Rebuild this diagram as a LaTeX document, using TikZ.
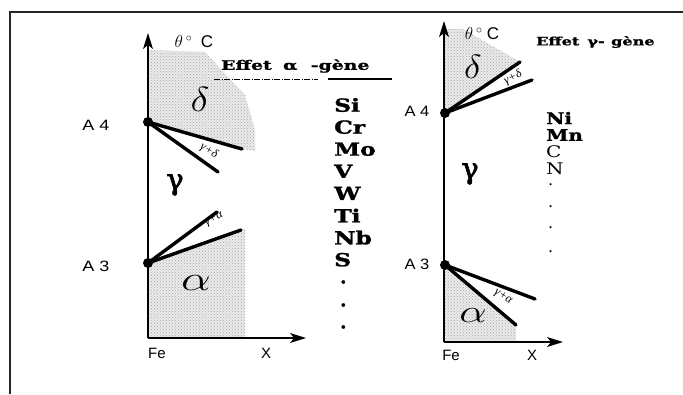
\documentclass[tikz,border=0pt]{standalone}
\usepackage{fontspec}
\setmainfont{Liberation Serif}
\setsansfont{Liberation Sans}
\newfontfamily\dserif[BoldFeatures={FakeBold=1.2}]{DejaVu Serif}
\newfontfamily\gkfont[FakeBold=2.5]{DejaVu Serif}
\usetikzlibrary{patterns}
\begin{document}
\begin{tikzpicture}[x=1pt,y=-1pt,
  frameline/.style={line width=1.6pt,black!85},
  axisline/.style={line width=2.4pt},
  tipfill/.style={fill=black},
  bound/.style={line width=3.4pt,line cap=round},
  pnt/.style={circle,fill=black,inner sep=0pt,minimum size=10pt},
  phase/.style={preaction={fill=gray!16},pattern=crosshatch dots,pattern color=gray!70},
  elem/.style={anchor=west,inner sep=0pt,font=\dserif\fontsize{18}{18}\selectfont\bfseries},
  elemr/.style={anchor=west,inner sep=0pt,font=\dserif\fontsize{16}{16}\selectfont},
  ptlab/.style={inner sep=0pt,font=\sffamily\fontsize{15}{15}\selectfont},
  axlab/.style={inner sep=0pt,font=\sffamily\fontsize{15}{15}\selectfont},
  thlab/.style={inner sep=0pt,font=\fontsize{17}{17}\selectfont},
  mix/.style={inner sep=0pt,font=\fontsize{12}{12}\selectfont\itshape},
  big/.style={inner sep=0pt,font=\fontsize{30}{30}\selectfont},
  gam/.style={inner sep=0pt,font=\gkfont\fontsize{29}{29}\selectfont},
  title/.style={anchor=west,inner sep=0pt}
]
\useasboundingbox (0,0) rectangle (683,394);
\fill[white] (0,0) rectangle (683,394);
% frame
\draw[frameline] (10,394) -- (10,12) -- (683,12);

% ---------------- left diagram ----------------
\coordinate (LO) at (148,338);
\coordinate (LY) at (148,33);
\coordinate (LYb) at (148,44);
\coordinate (LX) at (306,338);
\coordinate (LXb) at (295,338);
\coordinate (LA4) at (148,122);
\coordinate (LA3) at (148,263);
\coordinate (LdU) at (242,149);
\coordinate (LdL) at (218,172);
\coordinate (LaU) at (217,212);
\coordinate (LaL) at (241,230);
% shaded regions
\path[phase] (149,50) -- (205,52) -- (245,95) -- (255,130) -- (255,151) -- (LdU) -- (LA4) -- cycle;
\path[phase] (LA3) -- (LaL) -- (245,229) -- (245,338) -- (149,338) -- cycle;
% axes with arrowheads
\draw[axisline] (LO) -- (LYb);
\draw[axisline] (LO) -- (LXb);
\fill[tipfill] (LY) -- ++(-5,16) -- ++(5,-4) -- ++(5,4) -- cycle;
\fill[tipfill] (LX) -- ++(-16,-5) -- ++(4,5) -- ++(-4,5) -- cycle;
% boundaries
\draw[bound] (LA4) -- (LdU);
\draw[bound] (LA4) -- (LdL);
\draw[bound] (LA3) -- (LaU);
\draw[bound] (LA3) -- (LaL);
\node[pnt] (pLA4) at (LA4) {};
\node[pnt] (pLA3) at (LA3) {};
% labels
\node[ptlab] (lA4) at (96,125) {\scalebox{1.2}[1]{A 4}};
\node[ptlab] (lA3) at (96,266) {\scalebox{1.2}[1]{A 3}};
\node[thlab] (lth) at (194,42) {$\theta\,^{\circ}$\ \ \textsf{C}};
\node[axlab] (lFe) at (157,353) {Fe};
\node[axlab] (lX) at (266,353) {X};
\node[big] (ldelta) at (200,99) {\scalebox{1.6}[1.4]{$\delta$}};
\node[gam] (lgamma) at (175,185) {γ};
\node[big] (lalpha) at (196,283) {\scalebox{1.9}[1.4]{$\alpha$}};
\node[mix,rotate=-30] (lgd) at (209,151) {γ+δ};
\node[mix,rotate=28] (lga) at (214,219) {γ+α};
% title
\node[title,font=\dserif\fontsize{13}{13}\selectfont\bfseries] (ltitle) at (221,66) {\scalebox{1.45}[1]{Effet\hspace{0.6em}α\hspace{0.7em}-gène}};
\coordinate (u1) at (214,79);
\coordinate (u2) at (318,79);
\coordinate (u3) at (328,79);
\coordinate (u4) at (392,79);
\draw[line width=0.9pt,dash pattern=on 6pt off 1.5pt on 1pt off 1.5pt] (u1) -- (u2);
\draw[line width=1.5pt] (u3) -- (u4);
% elements
\foreach \t [count=\i from 0] in {Si,Cr,Mo,V,W,Ti,Nb,S}
  \node[elem] (le\i) at (334,105+22.1*\i) {\scalebox{1.3}[1]{\t}};
\foreach \yy [count=\i] in {287,310,332}
  \node[elem] (ld\i) at (340,\yy-5) {.};

% ---------------- right diagram ----------------
\coordinate (RO) at (444,342);
\coordinate (RY) at (444,21);
\coordinate (RYb) at (444,32);
\coordinate (RX) at (563,342);
\coordinate (RXb) at (552,342);
\coordinate (RA4) at (445,113);
\coordinate (RA3) at (445,265);
\coordinate (RdU) at (520,62);
\coordinate (RdL) at (532,80);
\coordinate (RaU) at (535,299);
\coordinate (RaL) at (516,325);
\path[phase] (445,29) -- (463,29) -- (RdU) -- (RA4) -- cycle;
\path[phase] (RA3) -- (RaL) -- (516,342) -- (445,342) -- cycle;
\draw[axisline] (RO) -- (RYb);
\draw[axisline] (RO) -- (RXb);
\fill[tipfill] (RY) -- ++(-5,16) -- ++(5,-4) -- ++(5,4) -- cycle;
\fill[tipfill] (RX) -- ++(-16,-5) -- ++(4,5) -- ++(-4,5) -- cycle;
\draw[bound] (RA4) -- (RdU);
\draw[bound] (RA4) -- (RdL);
\draw[bound] (RA3) -- (RaU);
\draw[bound] (RA3) -- (RaL);
\node[pnt] (pRA4) at (RA4) {};
\node[pnt] (pRA3) at (RA3) {};
\node[ptlab] (rA4) at (417,111) {\scalebox{1.1}[1]{A 4}};
\node[ptlab] (rA3) at (417,264) {\scalebox{1.1}[1]{A 3}};
\node[thlab] (rth) at (482,34) {$\theta\,^{\circ}$\ \textsf{C}};
\node[axlab] (rFe) at (451,355) {Fe};
\node[axlab] (rX) at (532,355) {X};
\node[big] (rdelta) at (473,67) {\scalebox{1.5}[1.35]{$\delta$}};
\node[gam] (rgamma) at (470,174) {γ};
\node[big] (ralpha) at (473,316) {\scalebox{1.75}[1.3]{$\alpha$}};
\node[mix,rotate=27] (rgd) at (513,78) {γ+δ};
\node[mix,rotate=-32] (rga) at (503,297) {γ+α};
\node[title,font=\dserif\fontsize{11.5}{11.5}\selectfont\bfseries] (rtitle) at (536,42) {\scalebox{1.4}[1]{Effet\hspace{0.5em}γ-\hspace{0.4em}gène}};
\node[elemr,font=\dserif\fontsize{16}{16}\selectfont\bfseries] (rN1) at (546,118) {\scalebox{1.25}[1]{Ni}};
\node[elemr,font=\dserif\fontsize{16}{16}\selectfont\bfseries] (rN2) at (546,135) {\scalebox{1.25}[1]{Mn}};
\node[elemr] (rN3) at (546,152) {\scalebox{1.25}[1]{C}};
\node[elemr] (rN4) at (546,169) {\scalebox{1.25}[1]{N}};
\foreach \yy [count=\i] in {190,212,233,257}
  \node[elemr] (rd\i) at (548,\yy-5) {.};
\end{tikzpicture}
\end{document}
